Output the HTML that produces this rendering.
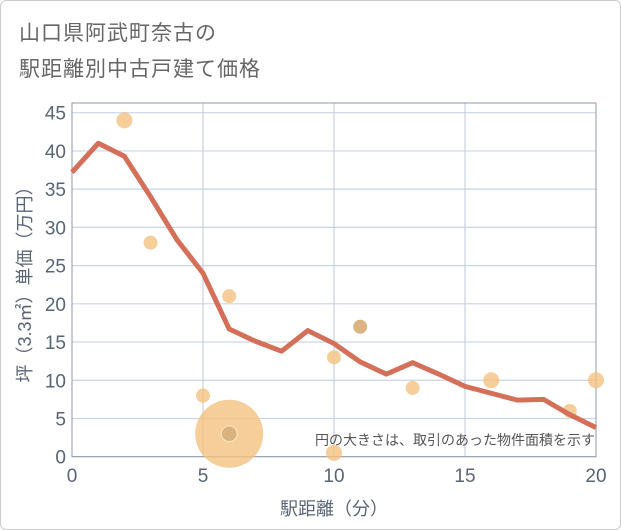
<!DOCTYPE html>
<html><head><meta charset="utf-8"><style>
body{margin:0;background:#fff;}
#wrap{position:relative;width:619px;height:528px;border:1px solid #ccc;border-radius:6px;background:#fff;overflow:hidden;font-family:"Liberation Sans","Noto Sans CJK JP",sans-serif;}
.title{position:absolute;left:18px;font-size:21px;color:#666;letter-spacing:1px;}
</style></head><body>
<div id="wrap">
<div class="title" style="top:16px">山口県阿武町奈古の</div>
<div class="title" style="top:52px">駅距離別中古戸建て価格</div>
<svg id="chart" width="621" height="530" style="position:absolute;left:-1px;top:-1px"></svg>
</div>
<script>
const lineX=[0,1,2,3,4,5,6,7,8,9,10,11,12,13,14,15,16,17,18,19,20];
const lineY=[37.2,41,39.3,34,28.4,24,16.7,15.1,13.8,16.5,14.8,12.4,10.8,12.3,10.8,9.2,8.3,7.4,7.5,5.5,3.8];
const ptX=[2,3,5,6,6,10,10,11,13,16,19,20,6];
const ptY=[44,28,8,21,3,13,0.5,17,9,10,6,10,3];
const ptR=[8,7,7,7,34,7,8,7,7,8,7,8,8];
const xTicks=[0,5,10,15,20];
const yTicks=[0,5,10,15,20,25,30,35,40,45];
const NS="http://www.w3.org/2000/svg";
const svg=document.getElementById('chart');
const L=72,R=596,T=103,B=456.7;
const xs=v=>L+(R-L)*v/20;
const ys=v=>B-(B-112.7)*v/45;
function mk(t,a){const e=document.createElementNS(NS,t);for(const k in a)e.setAttribute(k,a[k]);svg.appendChild(e);return e;}
yTicks.forEach(v=>{
 const g=mk('line',{x1:L,x2:R,y1:ys(v),y2:ys(v),stroke:'#c9d6e6','stroke-width':1.2});
 
 
 const t=mk('text',{x:66,y:ys(v)+7,'text-anchor':'end','font-size':19,fill:'#5a6474'});
 t.textContent=v;
 
 
});
xTicks.forEach(v=>{
 const g=mk('line',{x1:xs(v),x2:xs(v),y1:T,y2:B,stroke:'#c2cad6','stroke-width':1});
 
 
 const t=mk('text',{x:xs(v),y:482,'text-anchor':'middle','font-size':19,fill:'#5a6474'});
 t.textContent=v;
 
 
});
const fr=mk('rect',{x:L,y:T,width:R-L,height:B-T,fill:'none',stroke:'#8f98a6','stroke-width':1});


ptX.forEach((x,i)=>{
 const dark=(i===7||i===12);
 const c=mk('circle',{cx:xs(x),cy:ys(ptY[i]),r:ptR[i],fill:dark?'#d9b07a':'#f2c27f','fill-opacity':dark?0.95:0.8});
 if(i===12){c.setAttribute('stroke','#f7dfb8');c.setAttribute('stroke-width',1.5);c.setAttribute('fill','#d8b07c');}
 
 
});
const p=mk('polyline',{points:lineX.map((x,i)=>xs(x)+','+ys(lineY[i])).join(' '),fill:'none',stroke:'#d4705a','stroke-width':5,'stroke-linejoin':'round'});


const n=mk('text',{x:595,y:445,'text-anchor':'end','font-size':14,fill:'#555'});
n.textContent='円の大きさは、取引のあった物件面積を示す';


const xt=mk('text',{x:334,y:515,'text-anchor':'middle','font-size':18,fill:'#5a6474'});
xt.textContent='駅距離（分）';


const yt=mk('text',{x:0,y:0,'text-anchor':'middle','font-size':18,fill:'#5a6474',transform:'translate(31,280) rotate(-90)'});
yt.textContent='坪（3.3㎡）単価（万円）';


</script>
</body></html>
